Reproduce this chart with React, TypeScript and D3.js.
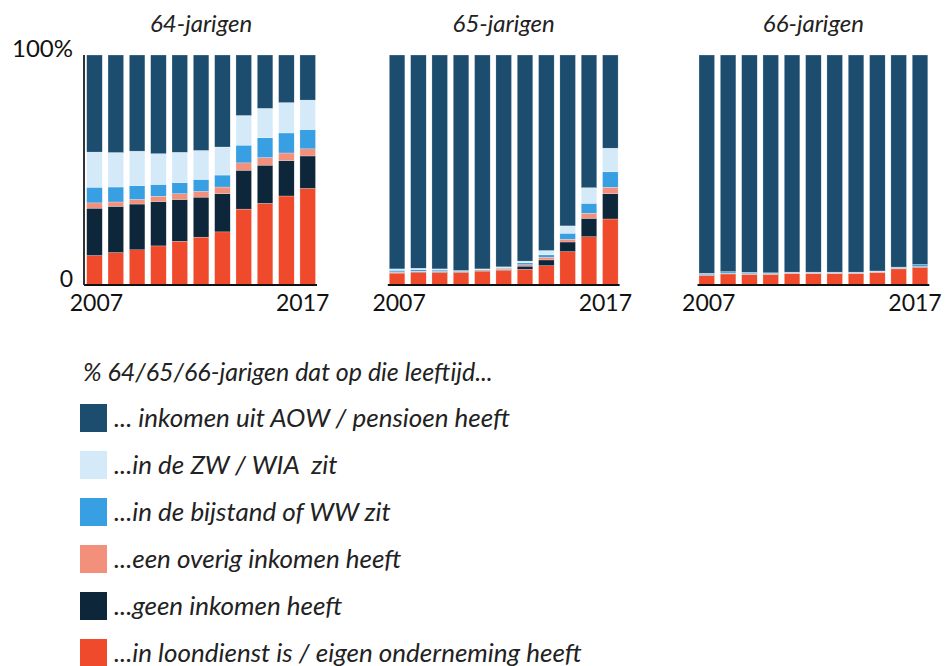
import React from "react";
import * as d3 from "d3";

const years = ["2007","2008","2009","2010","2011","2012","2013","2014","2015","2016","2017"];
const panelTitles = ["64-jarigen", "65-jarigen", "66-jarigen"];
const seriesKeys = ["loon", "geen", "overig", "bijstand", "zw", "aow"];
const seriesLabels = [
  "... inkomen uit AOW / pensioen heeft",
  "...in de ZW / WIA  zit",
  "...in de bijstand of WW zit",
  "...een overig inkomen heeft",
  "...geen inkomen heeft",
  "...in loondienst is / eigen onderneming heeft",
];
const legendKeys = ["aow", "zw", "bijstand", "overig", "geen", "loon"];
const colors: Record<string, string> = {
  aow: "#1c4d6f",
  zw: "#d5eaf8",
  bijstand: "#379fe2",
  overig: "#f3907c",
  geen: "#0e2639",
  loon: "#ef4a2b",
};
const legendTitle = "% 64/65/66-jarigen dat op die leeftijd...";
const yTickLabels = ["0", "100%"];

// Panel 64-jarigen
const p64Loon = [12.8, 14.1, 15.3, 17.0, 19.0, 20.8, 23.1, 33.0, 35.5, 38.7, 42.0];
const p64Geen = [20.6, 20.1, 19.9, 19.3, 18.2, 17.4, 16.6, 16.9, 16.6, 15.4, 14.1];
const p64Overig = [2.3, 1.9, 2.0, 2.3, 2.5, 2.5, 2.9, 3.2, 3.3, 3.3, 3.1];
const p64Bijstand = [6.8, 6.5, 6.0, 5.1, 4.8, 5.2, 5.2, 7.7, 8.6, 8.7, 8.4];
const p64Zw = [15.3, 15.0, 15.0, 13.4, 13.2, 12.6, 12.2, 12.9, 12.8, 13.2, 12.8];

// Panel 65-jarigen
const p65Loon = [5.1, 5.5, 5.4, 5.4, 5.9, 6.4, 6.8, 8.4, 14.5, 21.0, 28.7];
const p65Geen = [0.2, 0.2, 0.2, 0.2, 0.2, 0.3, 1.4, 2.5, 4.2, 8.0, 11.0];
const p65Overig = [0.4, 0.3, 0.3, 0.3, 0.5, 0.6, 0.6, 1.2, 1.2, 2.2, 2.8];
const p65Bijstand = [0.7, 0.7, 0.6, 0.2, 0.2, 0.3, 0.9, 1.0, 2.6, 4.3, 6.7];
const p65Zw = [0.6, 0.6, 0.5, 0.2, 0.2, 0.3, 0.7, 1.9, 3.2, 6.8, 10.3];

// Panel 66-jarigen
const p66Loon = [4.2, 4.8, 4.6, 4.6, 4.9, 4.9, 4.9, 4.9, 5.4, 7.0, 7.7];
const p66Geen = [0.1, 0.1, 0.1, 0.1, 0.1, 0.1, 0.1, 0.1, 0.1, 0.1, 0.1];
const p66Overig = [0.2, 0.2, 0.2, 0.2, 0.2, 0.2, 0.2, 0.2, 0.2, 0.2, 0.2];
const p66Bijstand = [0.5, 0.6, 0.5, 0.3, 0.3, 0.3, 0.3, 0.3, 0.3, 0.4, 0.8];
const p66Zw = [0.1, 0.1, 0.1, 0.1, 0.1, 0.1, 0.1, 0.1, 0.1, 0.1, 0.1];

function buildRows(loon: number[], geen: number[], overig: number[], bijstand: number[], zw: number[]) {
  return years.map((y, i) => {
    const sum = loon[i] + geen[i] + overig[i] + bijstand[i] + zw[i];
    return { year: y, loon: loon[i], geen: geen[i], overig: overig[i], bijstand: bijstand[i], zw: zw[i], aow: 100 - sum };
  });
}

const panelsData = [
  buildRows(p64Loon, p64Geen, p64Overig, p64Bijstand, p64Zw),
  buildRows(p65Loon, p65Geen, p65Overig, p65Bijstand, p65Zw),
  buildRows(p66Loon, p66Geen, p66Overig, p66Bijstand, p66Zw),
];

const FONT = "Lato, 'Open Sans', sans-serif";
const panelX0 = [86.7, 389.3, 699];
const panelWidth = 228.8;
const yTop = 55;
const yBase = 285;

export default function App() {
  const y = d3.scaleLinear().domain([0, 100]).range([yBase, yTop]);
  const stack = d3.stack<any>().keys(seriesKeys);
  return (
    <svg width={948} height={666} style={{ position: "absolute", left: 0, top: 0, background: "#fff" }}>
      {panelsData.map((rows, pi) => {
        const x = d3.scaleBand().domain(years).range([panelX0[pi], panelX0[pi] + panelWidth]).paddingInner(0.27).paddingOuter(0);
        const series = stack(rows);
        const cx = panelX0[pi] + panelWidth / 2;
        return (
          <g key={pi}>
            <text x={cx} y={32} textAnchor="middle" fontFamily={FONT} fontStyle="italic" fontSize={24} fill="#222">{panelTitles[pi]}</text>
            {series.map((s) => (
              <g key={s.key} fill={colors[s.key]}>
                {s.map((d, i) => (
                  <rect key={i} x={x(years[i])} width={x.bandwidth()} y={y(d[1])} height={Math.max(0, y(d[0]) - y(d[1]))}
                    stroke="#fff" strokeWidth={0.4} strokeOpacity={0.6} />
                ))}
              </g>
            ))}
            <line x1={panelX0[pi] - (pi === 0 ? 2.7 : 1.5)} x2={panelX0[pi] + panelWidth + 1.5} y1={yBase} y2={yBase} stroke="#111" strokeWidth={2} />
            <text x={x(years[0])! + x.bandwidth() / 2 + 2} y={311} textAnchor="middle" fontFamily={FONT} fontSize={23} fill="#111">{years[0]}</text>
            <text x={x(years[years.length - 1])! + x.bandwidth() / 2 - 5} y={311} textAnchor="middle" fontFamily={FONT} fontSize={23} fill="#111">{years[years.length - 1]}</text>
          </g>
        );
      })}
      <line x1={84} x2={84} y1={yTop} y2={yBase} stroke="#333" strokeWidth={2} />
      <text x={73} y={y(100) + 2} textAnchor="end" fontFamily={FONT} fontSize={24} fill="#111">{yTickLabels[1]}</text>
      <text x={73} y={y(0) + 2} textAnchor="end" fontFamily={FONT} fontSize={23} fill="#111">{yTickLabels[0]}</text>

      <text x={83} y={381} fontFamily={FONT} fontStyle="italic" fontSize={25} fill="#222">{legendTitle}</text>
      {legendKeys.map((k, i) => {
        const top = 404 + i * 47;
        return (
          <g key={k}>
            <rect x={80} y={top} width={27} height={28} fill={colors[k]} />
            <text x={114} y={top + 22.5} fontFamily={FONT} fontStyle="italic" fontSize={26} fill="#222" style={{ whiteSpace: "pre" }}>{seriesLabels[i]}</text>
          </g>
        );
      })}
    </svg>
  );
}
